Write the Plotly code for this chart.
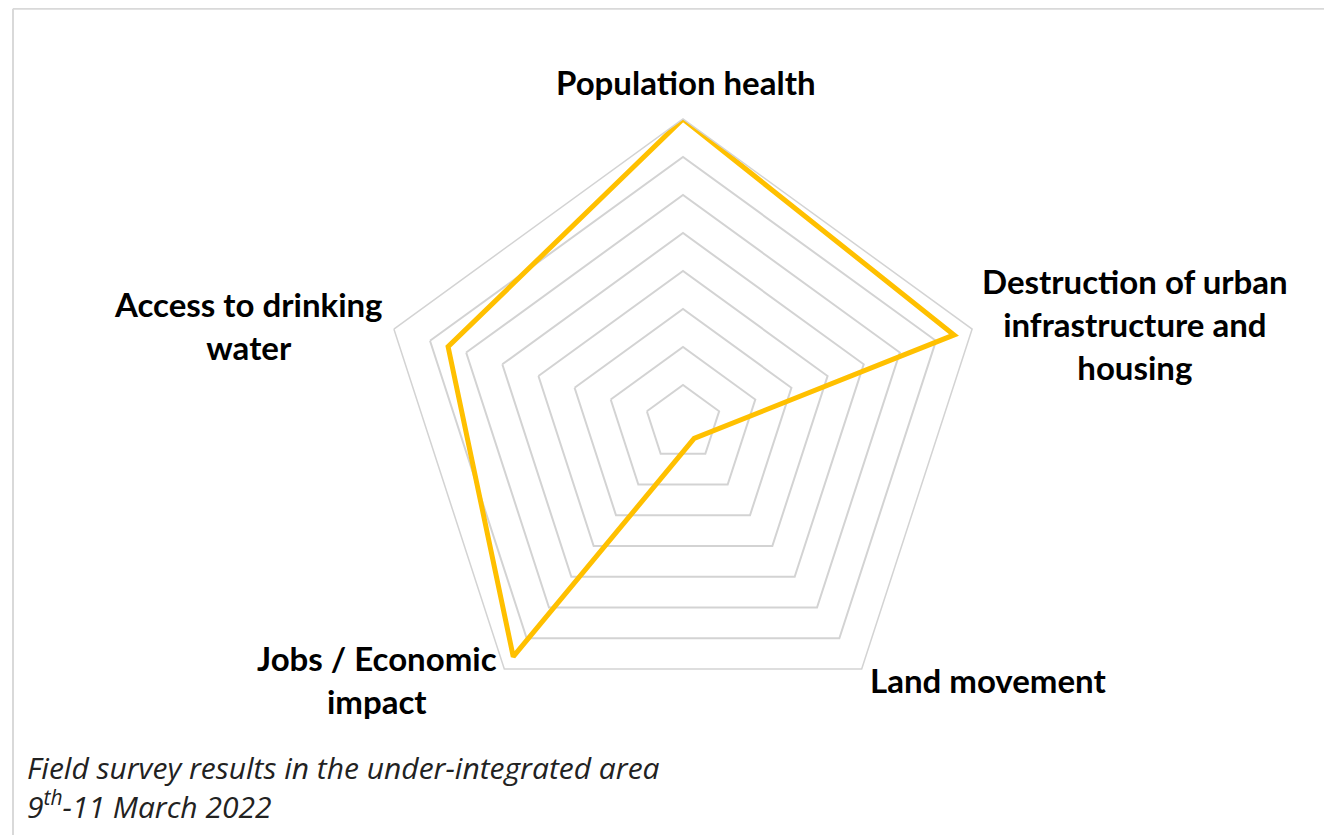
import plotly.graph_objects as go

categories = ['Population health',
              'Destruction of urban infrastructure and housing',
              'Land movement',
              'Jobs / Economic impact',
              'Access to drinking water']
label_text = ['Population health',
              'Destruction of urban<br>infrastructure and<br>housing',
              'Land movement',
              'Jobs / Economic<br>impact',
              'Access to drinking<br>water']
scores = [8, 7.5, 0.5, 7.6, 6.5]

W, H = 1332, 835
# the page puts an 8px body margin around the figure, so positions are shifted back by 8px
off = 8
cx, cy, R = 683 - off, 423 - off, 304

fig = go.Figure()
fig.add_trace(go.Scatterpolar(
    r=scores + scores[:1],
    theta=categories + categories[:1],
    mode='lines',
    line=dict(color='#FFC000', width=5),
    hoverinfo='skip',
))

fig.update_layout(
    width=W, height=H,
    margin=dict(l=0, r=0, t=0, b=0),
    paper_bgcolor='white',
    showlegend=False,
    polar=dict(
        domain=dict(x=[(cx - R) / W, (cx + R) / W], y=[1 - (cy + R) / H, 1 - (cy - R) / H]),
        gridshape='linear',
        bgcolor='white',
        radialaxis=dict(range=[0, 8], dtick=1, showticklabels=False, ticks='',
                        showline=False, gridcolor='#d3d3d3', gridwidth=1.5),
        angularaxis=dict(rotation=90, direction='clockwise', showgrid=False,
                         linecolor='#d3d3d3', linewidth=1.5, ticks='',
                         showticklabels=False),
    ),
)

# category labels, centred like the original
label_pos = [(686, 82), (1135, 324), (988, 680), (377, 679), (248, 325)]
for txt, (lx, ly) in zip(label_text, label_pos):
    fig.add_annotation(
        xref='paper', yref='paper', x=(lx - off) / W, y=1 - (ly - off) / H,
        xanchor='center', yanchor='middle', align='center', showarrow=False,
        text=txt,
        font=dict(family='Lato', size=33, color='black', weight='bold'),
    )

fig.add_annotation(
    xref='paper', yref='paper', x=(25 - off) / W, y=1 - (745 - off) / H,
    xanchor='left', yanchor='top', align='left', showarrow=False,
    text='Field survey results in the under-integrated area<br>9<sup>th</sup>-11 March 2022',
    font=dict(family='Open Sans', size=30, color='#222222', style='italic'),
)

# thin frame on top and left
fig.add_shape(type='line', xref='paper', yref='paper', x0=(13 - off) / W, x1=1, y0=0.999, y1=0.999,
              line=dict(color='#d9d9d9', width=2))
fig.add_shape(type='line', xref='paper', yref='paper', x0=(13 - off) / W, x1=(13 - off) / W, y0=0, y1=0.999,
              line=dict(color='#d9d9d9', width=2))

fig.write_html('out.html')
